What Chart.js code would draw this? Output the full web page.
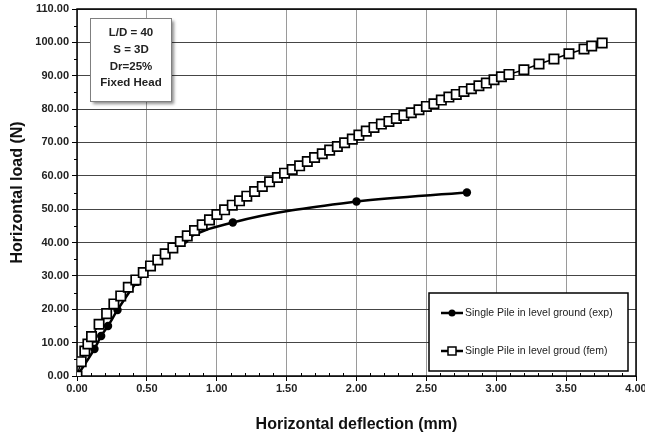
<!DOCTYPE html>
<html><head><meta charset="utf-8">
<script src="https://cdn.jsdelivr.net/npm/chart.js@4"></script>
<style>html,body{margin:0;padding:0;background:#fff}#wrap{width:645px;height:437px;position:relative}</style>
</head><body><div id="wrap"><canvas id="c" width="645" height="437"></canvas></div>
<script>
// ---- data ----
const expX = [0, 0.125, 0.173, 0.222, 0.29, 0.43, 0.77, 1.115, 2.0, 2.79];
const expY = [0, 8.1, 12.0, 15.0, 19.8, 28.2, 40.8, 46.0, 52.3, 55.0];
const femX = [0, 0.030, 0.056, 0.078, 0.104, 0.158, 0.212, 0.264, 0.313, 0.367, 0.421, 0.474, 0.526, 0.578, 0.631, 0.686, 0.739, 0.789, 0.841, 0.896, 0.948, 1.001, 1.056, 1.111, 1.163, 1.215, 1.271, 1.326, 1.378, 1.434, 1.485, 1.540, 1.593, 1.648, 1.700, 1.755, 1.808, 1.863, 1.915, 1.970, 2.017, 2.070, 2.125, 2.178, 2.232, 2.285, 2.339, 2.392, 2.447, 2.500, 2.554, 2.607, 2.661, 2.714, 2.769, 2.822, 2.876, 2.929, 2.984, 3.037, 3.091, 3.198, 3.306, 3.413, 3.520, 3.628, 3.683, 3.758];
const femY = [0, 4.3, 7.5, 9.6, 11.8, 15.5, 18.7, 21.6, 24.0, 26.6, 28.8, 31.0, 33.0, 34.8, 36.6, 38.4, 40.3, 42.0, 43.6, 45.3, 46.8, 48.4, 49.8, 51.2, 52.5, 53.9, 55.3, 56.8, 58.2, 59.5, 60.8, 61.9, 63.0, 64.3, 65.5, 66.6, 67.7, 68.8, 69.9, 71.0, 72.2, 73.4, 74.5, 75.5, 76.3, 77.2, 78.1, 78.9, 79.8, 80.8, 81.6, 82.7, 83.6, 84.4, 85.3, 86.1, 87.0, 87.8, 88.8, 89.7, 90.4, 91.8, 93.5, 95.0, 96.6, 98.0, 98.9, 99.8];
const seriesNames = ['Single Pile in level ground (exp)', 'Single Pile in level groud (fem)'];
const xTicks = [0, 0.5, 1, 1.5, 2, 2.5, 3, 3.5, 4];
const yTicks = [0, 10, 20, 30, 40, 50, 60, 70, 80, 90, 100, 110];
const xMinorStep = 0.1;
const yMinorStep = 5;
const noteLines = ['L/D = 40', 'S = 3D', 'Dr=25%', 'Fixed Head'];
const xTitle = 'Horizontal deflection (mm)';
const yTitle = 'Horizontal load (N)';

const toPts = (xs, ys) => xs.map((x, i) => ({x, y: ys[i]}));
const FONT = '"Liberation Sans", Arial, sans-serif';

const decor = {
  id: 'decor',
  beforeDraw(chart) {
    const c = chart.ctx;
    c.save(); c.fillStyle = '#fff'; c.fillRect(0, 0, chart.width, chart.height); c.restore();
  },
  beforeDatasetsDraw(chart) {
    const c = chart.ctx, a = chart.chartArea, xs = chart.scales.x, ys = chart.scales.y;
    c.save();
    c.strokeStyle = '#000'; c.lineWidth = 1;
    c.beginPath();
    for (let v = yTicks[0]; v <= yTicks[yTicks.length - 1] + 1e-9; v += yMinorStep) {
      if (yTicks.some(t => Math.abs(t - v) < 1e-6)) continue;
      const py = Math.round(ys.getPixelForValue(v)) + 0.5;
      c.moveTo(a.left - 3, py); c.lineTo(a.left, py);
    }
    for (let k = 0; k * xMinorStep <= 4 + 1e-9; k++) {
      const v = k * xMinorStep;
      if (xTicks.some(t => Math.abs(t - v) < 1e-6)) continue;
      const px = Math.round(xs.getPixelForValue(v)) + 0.5;
      c.moveTo(px, a.bottom); c.lineTo(px, a.bottom - 3);
    }
    c.stroke();
    c.lineWidth = 1.5;
    c.strokeRect(a.left, a.top, a.right - a.left, a.bottom - a.top);
    c.restore();
  },
  afterDraw(chart) {
    const c = chart.ctx;
    c.save();
    const bx = 90, by = 18, bw = 81, bh = 83;
    c.shadowColor = 'rgba(0,0,0,0.45)'; c.shadowBlur = 3; c.shadowOffsetX = 3; c.shadowOffsetY = 3;
    c.fillStyle = '#fff'; c.fillRect(bx, by, bw, bh);
    c.shadowColor = 'transparent';
    c.strokeStyle = '#7f7f7f'; c.lineWidth = 1; c.strokeRect(bx + 0.5, by + 0.5, bw, bh);
    c.fillStyle = '#222'; c.font = 'bold 11.5px "Liberation Sans Narrow", ' + FONT;
    c.textAlign = 'center'; c.textBaseline = 'middle';
    noteLines.forEach((t, i) => c.fillText(t, bx + bw / 2 + 0.5, by + 15 + i * 16.7));
    const lx = 429, ly = 293, lw = 199, lh = 78;
    c.fillStyle = '#fff'; c.fillRect(lx, ly, lw, lh);
    c.strokeStyle = '#000'; c.lineWidth = 1.5; c.strokeRect(lx, ly, lw, lh);
    const rows = [313, 351];
    rows.forEach((ry, i) => {
      c.strokeStyle = '#000'; c.lineWidth = 2.5;
      c.beginPath(); c.moveTo(441, ry); c.lineTo(463, ry); c.stroke();
      if (i === 0) {
        c.fillStyle = '#000'; c.beginPath(); c.arc(452, ry, 3.5, 0, Math.PI * 2); c.fill();
      } else {
        c.fillStyle = '#fff'; c.lineWidth = 1.5;
        c.fillRect(448, ry - 4, 8, 8); c.strokeRect(448, ry - 4, 8, 8);
      }
      c.fillStyle = '#222'; c.font = '10.5px ' + FONT; c.textAlign = 'left'; c.textBaseline = 'middle';
      c.fillText(seriesNames[i], 465, ry);
    });
    c.restore();
  }
};

new Chart(document.getElementById('c'), {
  type: 'scatter',
  data: {
    datasets: [
      {
        label: seriesNames[0], data: toPts(expX, expY), showLine: true,
        borderColor: '#000', backgroundColor: '#000', borderWidth: 2.5,
        cubicInterpolationMode: 'monotone',
        pointStyle: 'circle', pointRadius: 4.2, pointBorderWidth: 0, order: 2
      },
      {
        label: seriesNames[1], data: toPts(femX, femY), showLine: true,
        borderColor: '#000', backgroundColor: '#fff', borderWidth: 1.5, tension: 0,
        pointStyle: 'rect', pointRadius: 6.6, pointBorderWidth: 1.7,
        pointBorderColor: '#000', pointBackgroundColor: '#fff', order: 1
      }
    ]
  },
  options: {
    responsive: false, animation: false, devicePixelRatio: 1,
    layout: { padding: { top: 9, right: 9, bottom: 0, left: 0 } },
    plugins: { legend: { display: false }, tooltip: { enabled: false } },
    scales: {
      x: {
        type: 'linear', min: 0, max: 4,
        afterBuildTicks: s => { s.ticks = xTicks.map(v => ({value: v})); },
        afterFit: s => { s.height = 61; s.paddingLeft = 0; s.paddingRight = 0; },
        ticks: { callback: v => Number(v).toFixed(2), color: '#222', font: { family: FONT, size: 11, weight: 'bold' }, padding: 1, maxRotation: 0, autoSkip: false },
        grid: { color: '#9a9a9a', lineWidth: 1, tickLength: 5, tickColor: '#000' },
        border: { display: false },
        title: { display: true, text: xTitle, color: '#111', font: { family: FONT, size: 16, weight: 'bold' }, padding: { top: 0, bottom: 3 } }
      },
      y: {
        type: 'linear', min: 0, max: 110,
        afterBuildTicks: s => { s.ticks = yTicks.map(v => ({value: v})); },
        afterFit: s => { s.width = 77; s.paddingTop = 0; s.paddingBottom = 0; },
        ticks: { callback: v => Number(v).toFixed(2), color: '#222', font: { family: FONT, size: 11, weight: 'bold' }, padding: 3, autoSkip: false },
        grid: { color: '#454545', lineWidth: 1, tickLength: 5, tickColor: '#000' },
        border: { display: false },
        title: { display: true, text: yTitle, color: '#111', font: { family: FONT, size: 16, weight: 'bold' }, padding: { top: 8, bottom: 0 } }
      }
    }
  },
  plugins: [decor]
});
</script>
</body></html>
